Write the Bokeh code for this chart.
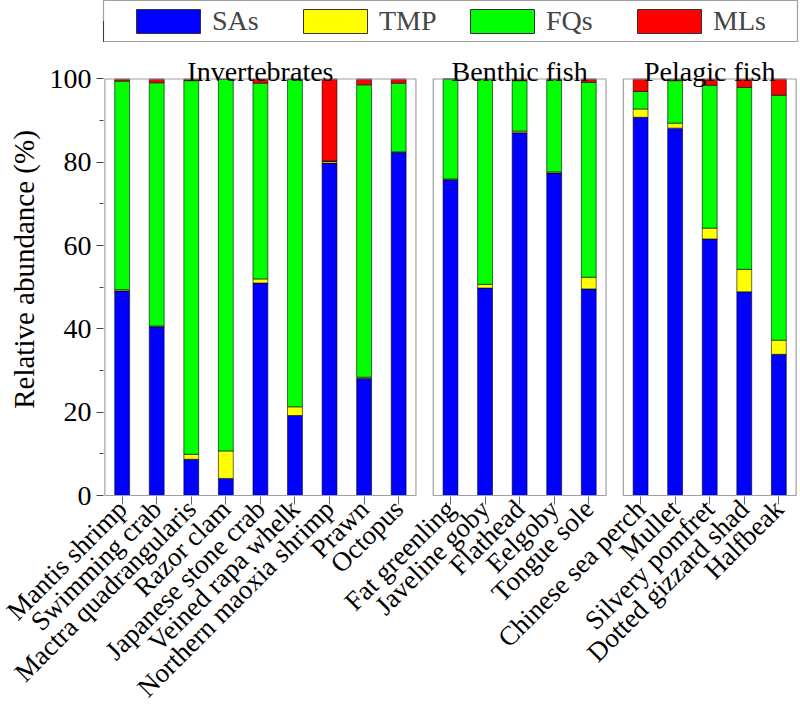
from bokeh.plotting import figure
from bokeh.models import (FactorRange, Range1d, FixedTicker, Legend, LegendItem,
                          ColumnDataSource)
from bokeh.layouts import column
from bokeh.core.properties import value
from bokeh.embed import file_html
from bokeh.resources import INLINE
import math

# ---------------- data ----------------
groups = ["Invertebrates", "Benthic fish", "Pelagic fish"]
species_inv = ["Mantis shrimp", "Swimming crab", "Mactra quadrangularis", "Razor clam",
               "Japanese stone crab", "Veined rapa whelk", "Northern maoxia shrimp",
               "Prawn", "Octopus"]
species_ben = ["Fat greenling", "Javeline goby", "Flathead", "Eelgoby", "Tongue sole"]
species_pel = ["Chinese sea perch", "Mullet", "Silvery pomfret", "Dotted gizzard shad",
               "Halfbeak"]
series = ["SAs", "TMP", "FQs", "MLs"]

sas = [49.1, 40.5, 8.7, 4.1, 51.0, 19.2, 79.8, 28.1, 82.4,
       75.8, 49.8, 87.1, 77.4, 49.6,
       90.8, 88.2, 61.6, 48.9, 33.9]
tmp = [0.3, 0.2, 1.2, 6.6, 1.0, 2.1, 0.4, 0.3, 0.1,
       0.2, 0.9, 0.4, 0.3, 2.8,
       2.0, 1.2, 2.6, 5.4, 3.4]
fqs = [50.1, 58.4, 89.7, 89.2, 47.0, 78.6, 0.1, 70.2, 16.5,
       24.0, 49.2, 12.1, 22.2, 46.8,
       4.2, 10.2, 34.3, 43.7, 58.8]
mls = [0.5, 0.9, 0.4, 0.1, 1.0, 0.1, 19.7, 1.4, 1.0,
       0.0, 0.1, 0.4, 0.1, 0.8,
       3.0, 0.4, 1.5, 2.0, 3.9]

y_major = [0, 20, 40, 60, 80, 100]
y_minor = [10, 30, 50, 70, 90]

# ---------------- style ----------------
colors = ["#0000FF", "#FFFF00", "#00FF00", "#FF0000"]
FONT = "'Liberation Serif', 'Times New Roman', serif"
FRAME = "#a0a0a0"
species_lists = [species_inv, species_ben, species_pel]

x_factors = [(g, s) for g, sp in zip(groups, species_lists) for s in sp]
src = ColumnDataSource(dict(x=x_factors, SAs=sas, TMP=tmp, FQs=fqs, MLs=mls))

p = figure(x_range=FactorRange(*x_factors, factor_padding=0, group_padding=0.5,
                               range_padding=0.04, range_padding_units="absolute"),
           y_range=Range1d(-0.24, 108.76),
           width=800, height=678, min_border_left=102, min_border_right=0,
           min_border_top=0, min_border_bottom=224,
           output_backend="svg", toolbar_location=None)
p.outline_line_color = None
p.grid.visible = False
p.background_fill_color = "white"

p.vbar_stack(series, x="x", width=0.43, source=src, fill_color=colors,
             line_color="black", line_width=0.6)

# panel frames
p.quad(left=[(g, sp[0], -0.5) for g, sp in zip(groups, species_lists)],
       right=[(g, sp[-1], 0.5) for g, sp in zip(groups, species_lists)],
       bottom=0, top=100, fill_color=None, line_color=FRAME, line_width=1.2)

# panel titles
p.text(x=groups, y=[101.7] * len(groups), text=groups, text_align="center",
       text_baseline="alphabetic", text_font=value(FONT), text_font_size="28px",
       text_color="black")

# y axis
ya = p.yaxis[0]
ya.ticker = FixedTicker(ticks=y_major, minor_ticks=y_minor)
ya.axis_line_color = None
ya.major_tick_out = 7
ya.major_tick_in = 0
ya.minor_tick_out = 4
ya.minor_tick_in = 0
ya.major_tick_line_color = "#444444"
ya.minor_tick_line_color = "#444444"
ya.major_label_text_font = FONT
ya.major_label_text_font_size = "28px"
ya.major_label_text_color = "black"
ya.major_label_standoff = 5
ya.axis_label = "Relative abundance (%)"
ya.axis_label_text_font = FONT
ya.axis_label_text_font_size = "29px"
ya.axis_label_text_font_style = "normal"
ya.axis_label_text_color = "black"
ya.axis_label_standoff = 7

# x axis
xa = p.xaxis[0]
xa.axis_line_color = None
xa.major_tick_out = 8
xa.major_tick_in = 0
xa.major_tick_line_color = "#666666"
xa.minor_tick_line_color = None
xa.major_label_orientation = math.pi / 4
xa.major_label_text_font = FONT
xa.major_label_text_font_size = "27px"
xa.major_label_text_color = "black"
xa.major_label_standoff = 0
xa.group_text_font_size = "0px"
xa.group_text_color = None
xa.separator_line_color = None

# legend figure
lf = figure(x_range=Range1d(0, 1), y_range=Range1d(0, 1), width=800, height=42,
            min_border_left=103, min_border_right=3, min_border_top=0, min_border_bottom=0,
            x_axis_type=None, y_axis_type=None,
            output_backend="svg", toolbar_location=None)
lf.grid.visible = False
lf.outline_line_color = FRAME
lf.outline_line_width = 1.2
items = []
for name, c in zip(series, colors):
    # off-screen proxy glyph that only supplies the legend swatch style
    r = lf.vbar(x=[-5], top=[0.5], width=0.1, fill_color=c, line_color="#333333", line_width=1)
    items.append(LegendItem(label=name, renderers=[r]))
leg = Legend(items=items, orientation="horizontal", location="center",
             padding=0, spacing=24, label_width=59, glyph_width=80, glyph_height=30,
             label_standoff=4, label_text_font=FONT, label_text_font_size="28px",
             border_line_color=None, background_fill_alpha=0, margin=0)
lf.add_layout(leg, "center")

layout = column(lf, p, spacing=0)
open("out.html", "w").write(file_html(layout, INLINE))
